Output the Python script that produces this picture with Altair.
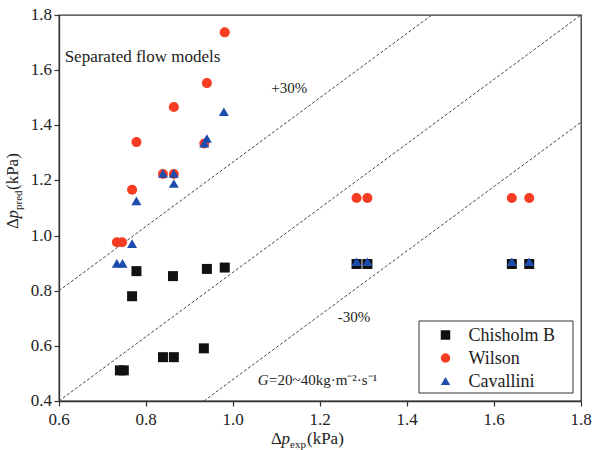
import altair as alt
import pandas as pd

FONT = "Liberation Serif"
TXT = "#222"

series_names = ["Chisholm B", "Wilson", "Cavallini"]
series_colors = ["#111111", "#f63c22", "#1c4cae"]
series_shapes = ["square", "circle", "triangle-up"]

chisholm_x = [0.740, 0.749, 0.768, 0.778, 0.839, 0.864, 0.862, 0.933, 0.940, 0.981, 1.284, 1.309, 1.641, 1.681]
chisholm_y = [0.511, 0.511, 0.780, 0.871, 0.559, 0.559, 0.853, 0.591, 0.879, 0.884, 0.897, 0.897, 0.897, 0.897]

wilson_x = [0.733, 0.745, 0.768, 0.778, 0.839, 0.864, 0.864, 0.934, 0.940, 0.981, 1.284, 1.309, 1.641, 1.681]
wilson_y = [0.976, 0.976, 1.166, 1.339, 1.223, 1.223, 1.466, 1.334, 1.553, 1.737, 1.136, 1.136, 1.136, 1.136]

cavallini_x = [0.733, 0.746, 0.768, 0.778, 0.839, 0.864, 0.864, 0.934, 0.940, 0.979, 1.284, 1.309, 1.641, 1.681]
cavallini_y = [0.899, 0.899, 0.971, 1.126, 1.225, 1.225, 1.189, 1.335, 1.352, 1.449, 0.905, 0.905, 0.905, 0.905]

# reference lines (endpoints)
line_ids = ["upper", "upper", "mid", "mid", "lower", "lower"]
line_x = [0.6, 1.457, 0.6, 1.8, 0.933, 1.8]
line_y = [0.8, 1.8, 0.4, 1.8, 0.4, 1.411]

x_ticks = [0.6, 0.8, 1.0, 1.2, 1.4, 1.6, 1.8]
y_ticks = [0.4, 0.6, 0.8, 1.0, 1.2, 1.4, 1.6, 1.8]

rows = []
for name, xs_, ys_ in [("Chisholm B", chisholm_x, chisholm_y),
                       ("Wilson", wilson_x, wilson_y),
                       ("Cavallini", cavallini_x, cavallini_y)]:
    for i, (a, b) in enumerate(zip(xs_, ys_)):
        rows.append({"model": name, "x": a, "y": b, "order": series_names.index(name) * 100 + i})
pts = pd.DataFrame(rows)

lines = pd.DataFrame({"id": line_ids, "x": line_x, "y": line_y})

xs = alt.Scale(domain=[0.6, 1.8], nice=False, zero=False)
ys = alt.Scale(domain=[0.4, 1.8], nice=False, zero=False)

axis_kw = dict(title=None, labels=False, tickColor="#333", domainColor="#333", domainWidth=1.3,
               tickWidth=1.2, tickSize=5, grid=False)
xaxis = alt.Axis(values=x_ticks, **axis_kw)
yaxis = alt.Axis(values=y_ticks, **axis_kw)

dash = alt.Chart(lines).mark_line(color="#444", strokeWidth=1, strokeDash=[3, 2]).encode(
    x=alt.X("x:Q", scale=xs, axis=xaxis),
    y=alt.Y("y:Q", scale=ys, axis=yaxis),
    detail="id:N",
)

points = alt.Chart(pts).mark_point(filled=True, opacity=1, size=100).encode(
    x=alt.X("x:Q", scale=xs),
    y=alt.Y("y:Q", scale=ys),
    color=alt.Color("model:N", scale=alt.Scale(domain=series_names, range=series_colors), legend=None),
    shape=alt.Shape("model:N", scale=alt.Scale(domain=series_names, range=series_shapes), legend=None),
    order="order:Q",
)

# tick labels (serif)
xlab = alt.Chart(pd.DataFrame({"v": x_ticks})).transform_calculate(
    lab="format(datum.v, '.1f')"
).mark_text(font=FONT, fontSize=17, color=TXT, align="center", baseline="alphabetic").encode(
    x=alt.X("v:Q", scale=xs), y=alt.value(410), text="lab:N")
ylab = alt.Chart(pd.DataFrame({"v": y_ticks})).transform_calculate(
    lab="format(datum.v, '.1f')"
).mark_text(font=FONT, fontSize=17, color=TXT, align="right", baseline="middle").encode(
    y=alt.Y("v:Q", scale=ys), x=alt.value(-7), text="lab:N")

ann = pd.DataFrame({
    "x": [0.613, 1.088, 1.241, 1.083],
    "y": [1.629, 1.516, 0.687, 0.457],
    "t": ["Separated flow models", "+30%", "-30%", "=20~40kg·m⁻²·s⁻¹"],
    "s": [17, 15, 15, 15],
})
ann_txt = alt.Chart(ann).mark_text(align="left", baseline="alphabetic", font=FONT, color=TXT).encode(
    x=alt.X("x:Q", scale=xs), y=alt.Y("y:Q", scale=ys), text="t:N",
    size=alt.Size("s:Q", scale=None, legend=None),
)
g_txt = alt.Chart(pd.DataFrame({"x": [1.057], "y": [0.457], "t": ["G"]})).mark_text(
    align="left", baseline="alphabetic", font=FONT, fontStyle="italic", fontSize=15, color=TXT
).encode(x=alt.X("x:Q", scale=xs), y=alt.Y("y:Q", scale=ys), text="t:N")


def label(t, x, y, size=17, italic=False, angle=0, align="left", baseline="alphabetic"):
    kw = dict(align=align, baseline=baseline, font=FONT, fontSize=size, color=TXT)
    if italic:
        kw["fontStyle"] = "italic"
    if angle:
        kw["angle"] = angle
    return alt.Chart(pd.DataFrame({"t": [t]})).mark_text(**kw).encode(
        text="t:N", x=alt.value(x), y=alt.value(y))


# x axis title: Δp_exp(kPa)
xt = [
    label("Δ", 212, 429),
    label("p", 222.5, 429, italic=True),
    label("exp", 231, 433, size=11),
    label("(kPa)", 248, 429),
]
# y axis title: Δp_pred(kPa), rotated
yt = [
    label("Δ", -41, 214, angle=270),
    label("p", -41, 203.6, italic=True, angle=270),
    label("pred", -37, 195, size=11, angle=270),
    label("(kPa)", -41, 175, angle=270),
]

# legend box (manual, serif labels)
legend_box = alt.Chart(pd.DataFrame({"a": [0]})).mark_rect(
    fill="white", stroke="#333", strokeWidth=1
).encode(x=alt.value(360), x2=alt.value(514), y=alt.value(306), y2=alt.value(378))

legend_parts = []
row_y = [320, 343, 366]
for name, col, shp, yy in zip(series_names, series_colors, series_shapes, row_y):
    legend_parts.append(
        alt.Chart(pd.DataFrame({"m": [name]})).mark_point(
            filled=True, opacity=1, size=90, shape=shp, color=col
        ).encode(x=alt.value(386.5), y=alt.value(yy))
    )
    legend_parts.append(label(name, 409.5, yy + 1, size=18, baseline="middle"))

chart = alt.layer(dash, points, xlab, ylab, ann_txt, g_txt, *xt, *yt, legend_box, *legend_parts).properties(
    width=522, height=386,
    autosize=alt.AutoSizeParams(type="none"),
    padding={"left": 59, "top": 15, "right": 12, "bottom": 49},
).configure_view(
    stroke="#333", strokeWidth=1.3
)

chart.save("out.html", embed_options={"renderer": "svg", "actions": False})
